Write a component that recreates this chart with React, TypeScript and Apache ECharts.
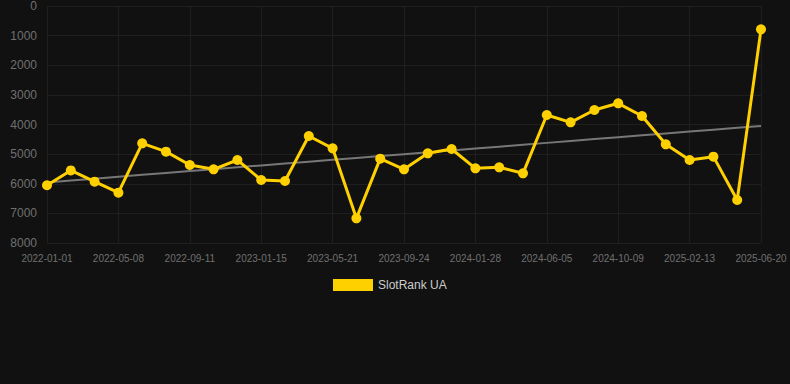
import React, { useEffect, useRef } from "react";
import * as echarts from "echarts";

const categories: string[] = [
  "2022-01-01", "2022-02-12", "2022-03-26", "2022-05-08", "2022-06-19", "2022-07-31",
  "2022-09-11", "2022-10-23", "2022-12-04", "2023-01-15", "2023-02-26", "2023-04-09",
  "2023-05-21", "2023-07-02", "2023-08-13", "2023-09-24", "2023-11-05", "2023-12-17",
  "2024-01-28", "2024-03-10", "2024-04-23", "2024-06-05", "2024-07-17", "2024-08-28",
  "2024-10-09", "2024-11-20", "2025-01-01", "2025-02-13", "2025-03-27", "2025-05-09",
  "2025-06-20",
];

const slotRankUA: number[] = [
  6050, 5550, 5930, 6300, 4635, 4917, 5367, 5513, 5198, 5873, 5907, 4388,
  4805, 7168, 5153, 5513, 4973, 4827, 5479, 5445, 5648, 3679, 3927, 3511,
  3285, 3713, 4669, 5198, 5085, 6549, 788,
];

const yTicks = { min: 0, max: 8000, interval: 1000 };

function trendOf(values: number[]): number[] {
  const n = values.length;
  let sx = 0, sy = 0, sxy = 0, sxx = 0;
  values.forEach((v, i) => {
    sx += i; sy += v; sxy += i * v; sxx += i * i;
  });
  const slope = (n * sxy - sx * sy) / (n * sxx - sx * sx);
  const icpt = (sy - slope * sx) / n;
  return values.map((_, i) => icpt + slope * i);
}

export default function App() {
  const ref = useRef<HTMLDivElement>(null);
  useEffect(() => {
    if (!ref.current) return;
    const chart = echarts.init(ref.current, null, { renderer: "svg" });
    const trend = trendOf(slotRankUA);
    chart.setOption({
      animation: false,
      backgroundColor: "#111111",
      grid: { left: 47, right: 29, top: 6, bottom: 141, containLabel: false },
      legend: {
        data: ["SlotRank UA"],
        top: 274,
        left: 328,
        icon: "rect",
        itemWidth: 40,
        itemHeight: 12,
        itemGap: 5,
        textStyle: { color: "#cccccc", fontSize: 12, fontFamily: "Liberation Sans, Arial, sans-serif" },
      },
      xAxis: {
        type: "category",
        data: categories,
        boundaryGap: false,
        axisLine: { show: false },
        axisTick: { show: false },
        axisLabel: {
          interval: 2,
          color: "#707070",
          fontSize: 10,
          margin: 10,
          fontFamily: "Liberation Sans, Arial, sans-serif",
        },
        splitLine: { show: true, interval: 2, lineStyle: { color: "#1f1f1f", width: 1 } },
      },
      yAxis: {
        type: "value",
        inverse: true,
        min: yTicks.min,
        max: yTicks.max,
        interval: yTicks.interval,
        axisLine: { show: false },
        axisTick: { show: false },
        axisLabel: {
          color: "#707070",
          fontSize: 12,
          margin: 10,
          formatter: (v: number) => String(v),
          fontFamily: "Liberation Sans, Arial, sans-serif",
        },
        splitLine: { show: true, lineStyle: { color: "#1f1f1f", width: 1 } },
      },
      series: [
        {
          name: "Trend",
          type: "line",
          data: trend,
          symbol: "none",
          lineStyle: { color: "#777777", width: 2 },
          z: 1,
          silent: true,
        },
        {
          name: "SlotRank UA",
          type: "line",
          data: slotRankUA,
          symbol: "circle",
          symbolSize: 10,
          itemStyle: { color: "#FFD000" },
          lineStyle: { color: "#FFD000", width: 3 },
          z: 2,
        },
      ],
    });
    return () => chart.dispose();
  }, []);
  return (
    <div
      ref={ref}
      style={{ position: "fixed", left: 0, top: 0, width: 790, height: 384 }}
    />
  );
}
